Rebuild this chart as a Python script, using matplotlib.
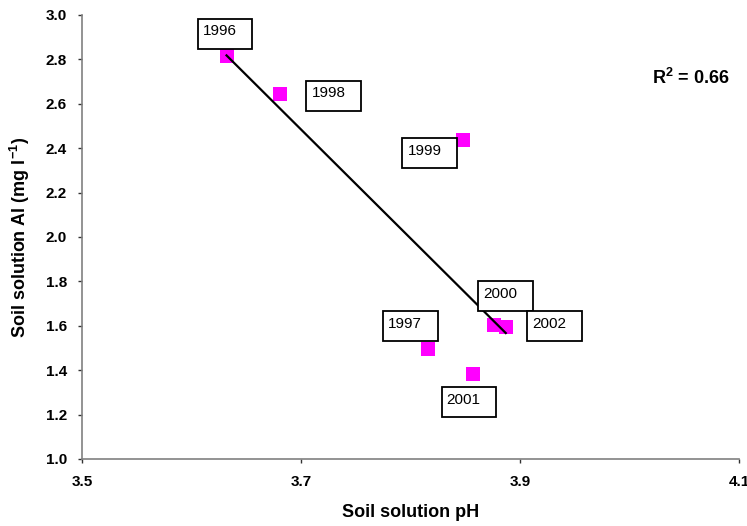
import numpy as np
import matplotlib
matplotlib.use("Agg")
import matplotlib.pyplot as plt
import matplotlib.transforms as mtransforms
from matplotlib.patches import Rectangle

# ---------------------------------------------------------
# data
# ---------------------------------------------------------
years = ["1996", "1997", "1998", "1999", "2000", "2001", "2002"]
ph = [3.632, 3.816, 3.681, 3.848, 3.876, 3.857, 3.887]
al = [2.817, 1.497, 2.644, 2.437, 1.602, 1.383, 1.593]
r2_text = "0.66"

x_ticks = [3.5, 3.7, 3.9, 4.1]
y_ticks = [1.0, 1.2, 1.4, 1.6, 1.8, 2.0, 2.2, 2.4, 2.6, 2.8, 3.0]

# label boxes: lower-left corner offset from the marker, in inches
label_offsets = {
    "1996": (-0.29, 0.067),
    "1997": (-0.45, 0.074),
    "1998": (0.263, -0.167),
    "1999": (-0.606, -0.283),
    "2000": (-0.156, 0.143),
    "2001": (-0.314, -0.433),
    "2002": (0.213, -0.14),
}
BOX_W, BOX_H = 0.546, 0.30

plt.rcParams["font.family"] = ["Liberation Sans", "DejaVu Sans"]
plt.rcParams["mathtext.fontset"] = "custom"
plt.rcParams["mathtext.rm"] = "Liberation Sans:bold"
plt.rcParams["mathtext.bf"] = "Liberation Sans:bold"
plt.rcParams["mathtext.it"] = "Liberation Sans:bold"

fig = plt.figure(figsize=(7.47, 5.26), dpi=100)
ax = fig.add_axes([82 / 747, 1 - 459 / 526, 657 / 747, 444 / 526])

# trend line over the data range
coef = np.polyfit(ph, al, 1)
xs = np.array([min(ph), max(ph)])
ax.plot(xs, np.polyval(coef, xs), color="black", lw=1.6, zorder=3)

ax.plot(ph, al, linestyle="none", marker="s", markersize=10,
        color="#FF00FF", markeredgewidth=0, zorder=2, clip_on=False)

# year labels in fixed-size boxes
for yr, x, y in zip(years, ph, al):
    dx, dy = label_offsets[yr]
    trans = fig.dpi_scale_trans + mtransforms.ScaledTranslation(x, y, ax.transData)
    ax.add_patch(Rectangle((dx, dy), BOX_W, BOX_H, transform=trans,
                           facecolor="white", edgecolor="black", lw=1.3,
                           zorder=4, clip_on=False))
    ax.text(dx + 0.05, dy + BOX_H - 0.165, yr, transform=trans, fontsize=11,
            ha="left", va="baseline", zorder=5, clip_on=False)

ax.text(0.868, 0.858, "R$^{2}$ = " + r2_text, transform=ax.transAxes,
        fontsize=13, fontweight="bold", ha="left", va="center")

ax.set_xlim(3.5, 4.1)
ax.set_ylim(1.0, 3.0)
ax.set_xticks(x_ticks)
ax.set_yticks(y_ticks)
ax.set_xticklabels([f"{v:.1f}" for v in x_ticks])
ax.set_yticklabels([f"{v:.1f}" for v in y_ticks])
for lbl in ax.get_xticklabels() + ax.get_yticklabels():
    lbl.set_fontweight("bold")
    lbl.set_fontsize(11)

ax.tick_params(direction="out", length=3, width=1, color="#333333")
ax.tick_params(axis="x", pad=8.5)
ax.tick_params(axis="y", pad=7.8)

for side in ["top", "right"]:
    ax.spines[side].set_visible(False)
for side in ["left", "bottom"]:
    ax.spines[side].set_color("#808080")
    ax.spines[side].set_linewidth(1.2)

ax.set_xlabel("Soil solution pH", fontsize=13, fontweight="bold")
ax.set_ylabel("Soil solution Al (mg l$^{-1}$)", fontsize=13, fontweight="bold")
ax.xaxis.set_label_coords(0.5, -0.1216)
ax.yaxis.set_label_coords(-0.0944, 0.5)
ax.xaxis.label.set_va("center")
ax.yaxis.label.set_va("center")

fig.savefig("out.png", dpi=100)
